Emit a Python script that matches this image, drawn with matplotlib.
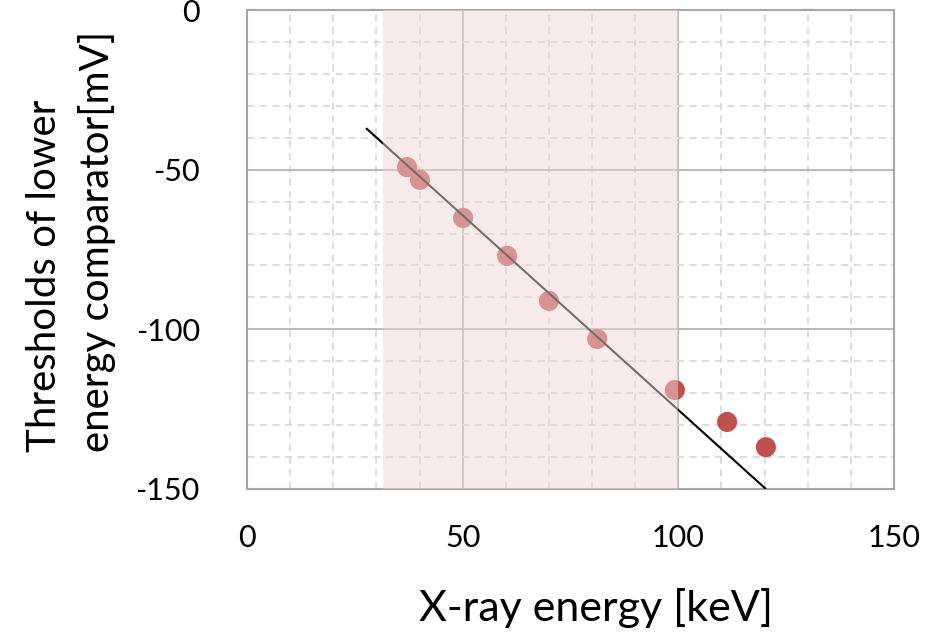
import matplotlib
matplotlib.use("Agg")
import matplotlib.pyplot as plt
from matplotlib.ticker import MultipleLocator

plt.rcParams['font.family'] = ['Lato', 'DejaVu Sans']
plt.rcParams['axes.unicode_minus'] = False

# Data
energy_kev = [37.1, 40.1, 50.1, 60.3, 70.0, 81.2, 99.2, 111.3, 120.3]
threshold_mv = [-49.2, -53.2, -65.1, -77.0, -91.1, -103.0, -119.0, -129.0, -136.9]
fit_x = [27.6, 120.3]
fit_y = [-37.0, -150.0]
band_range = [31.5, 100.0]
x_ticks = [0, 50, 100, 150]
y_ticks = [0, -50, -100, -150]

fig = plt.figure(figsize=(9.4, 6.32), dpi=100)
ax = fig.add_axes([247/940, 1 - 489/632, (894-247)/940, (489-10)/632])

ax.set_xlim(0, 150)
ax.set_ylim(-150, 0)
ax.set_xticks(x_ticks)
ax.set_yticks(y_ticks)
ax.xaxis.set_minor_locator(MultipleLocator(10))
ax.yaxis.set_minor_locator(MultipleLocator(10))
ax.grid(which='major', color='#b3b3b3', linewidth=1.3, linestyle='-', zorder=0)
ax.grid(which='minor', color='#d9d9d9', linewidth=1.3, linestyle=(0, (4, 3)), zorder=0)
ax.set_axisbelow(True)
for s in ax.spines.values():
    s.set_color('#a6a6a6')
    s.set_linewidth(1.5)
ax.tick_params(which='both', length=0)
ax.tick_params(axis='x', labelsize=22, pad=25)
ax.tick_params(axis='y', labelsize=22, pad=34)

ax.scatter(energy_kev, threshold_mv, s=210, color='#c0504d', edgecolors='none', zorder=3)
ax.plot(fit_x, fit_y, color='black', linewidth=1.5, zorder=4, solid_capstyle='butt')
ax.axvspan(band_range[0], band_range[1], color='#efd6d6', alpha=0.5, linewidth=0, zorder=5)

ax.set_xlabel('X-ray energy [keV]', fontsize=31)
ax.xaxis.set_label_coords((596-247)/647, -(588-489)/479)
ax.set_ylabel('Thresholds of lower\nenergy comparator[mV]', fontsize=29,
              multialignment='left', linespacing=1.5)
ax.yaxis.set_label_coords(-(247-116)/647, (489-241)/479)

fig.savefig('out.png', dpi=100)
